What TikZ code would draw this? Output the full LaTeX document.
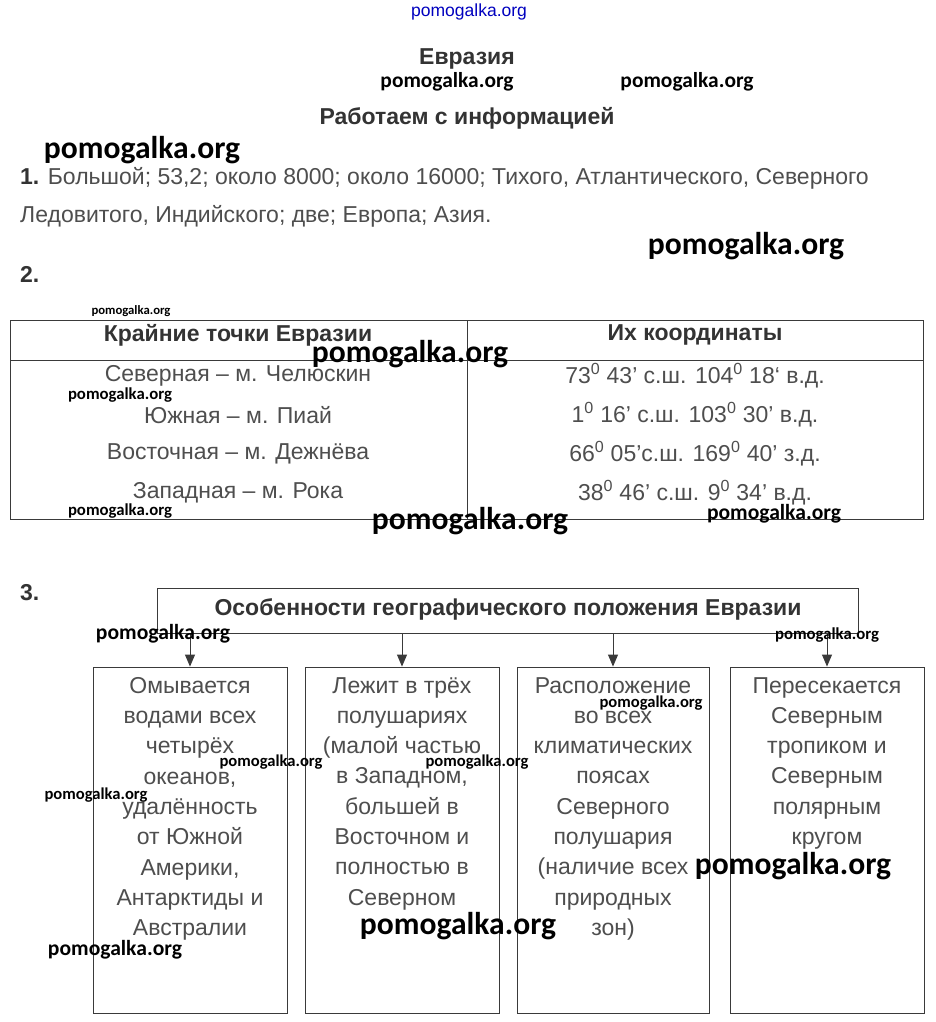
\documentclass[tikz,border=0pt]{standalone}
\usepackage{fontspec}
\usepackage{graphicx}
\setmainfont{Liberation Sans}
\newfontfamily\wmfont{Carlito}
\usetikzlibrary{arrows.meta}
\definecolor{txt}{HTML}{4E4E4E}
\definecolor{hd}{HTML}{333333}
\definecolor{ln}{HTML}{3A3A3A}
\newcommand\wmk[1]{\resizebox{#1pt}{!}{\wmfont\bfseries pomogalka.org}}
\tikzset{
  body/.style={text=txt,font=\fontsize{23}{27}\selectfont,inner sep=0pt},
  head/.style={text=hd,font=\fontsize{23}{27}\selectfont\bfseries,inner sep=0pt},
  boxtext/.style={text=txt,font=\fontsize{23}{30.3}\selectfont,align=center,inner sep=0pt,anchor=north},
  wm/.style={inner sep=0pt,text=black},
  frame/.style={draw=ln,line width=0.9pt,inner sep=0pt},
  arr/.style={draw=ln,line width=0.9pt,-{Triangle[width=10pt,length=12pt]}}
}
\begin{document}
\begin{tikzpicture}[x=1pt,y=-1pt]
\useasboundingbox[fill=white] (0,0) rectangle (936,1022);
% top watermark
\node[wm,text=blue!75!black] (wtop) at (469,12) {\resizebox{116pt}{!}{\fontsize{12}{14}\selectfont pomogalka.org}};
% titles
\node[head] (title) at (467,59) {Евразия};
\node[wm] (w1) at (447,82) {\wmk{133}};
\node[wm] (w2) at (687,82) {\wmk{133}};
\node[head] (sub) at (467,118) {Работаем с информацией};
\node[wm] (w3) at (142,150) {\wmk{196}};
% item 1
\node[body,anchor=west] (l1) at (20,178) {\textbf{\color{hd}1.} Большой; 53,2; около 8000; около 16000; Тихого, Атлантического, Северного};
\node[body,anchor=west] (l2) at (20,216) {Ледовитого, Индийского; две; Европа; Азия.};
\node[wm] (w4) at (746,246) {\wmk{196}};
% item 2
\node[head,anchor=west] (n2) at (20,274) {2.};
\node[wm] (w5) at (131,311) {\wmk{79}};
% table
\coordinate (tl) at (10,320);
\coordinate (br) at (923,519);
\draw[ln,line width=0.9pt] (tl) rectangle (br);
\draw[ln,line width=0.9pt] (10,360) -- (923,360);
\draw[ln,line width=0.6pt] (467,320) -- (467,519);
\node[head] (h1) at (238,335) {Крайние точки Евразии};
\node[head] (h2) at (695,335) {Их координаты};
\node[body] (r1a) at (238,376) {Северная – м. Челюскин};
\node[body] (r2a) at (238,415) {Южная – м. Пиай};
\node[body] (r3a) at (238,454) {Восточная – м. Дежнёва};
\node[body] (r4a) at (238,493) {Западная – м. Рока};
\node[body] (r1b) at (695,376) {73\textsuperscript{0} 43’ с.ш. 104\textsuperscript{0} 18‘ в.д.};
\node[body] (r2b) at (695,415) {1\textsuperscript{0} 16’ с.ш. 103\textsuperscript{0} 30’ в.д.};
\node[body] (r3b) at (695,454) {66\textsuperscript{0} 05’с.ш. 169\textsuperscript{0} 40’ з.д.};
\node[body] (r4b) at (695,493) {38\textsuperscript{0} 46’ с.ш. 9\textsuperscript{0} 34' в.д.};
\node[wm] (w6) at (410,354) {\wmk{196}};
\node[wm] (w7) at (120,395) {\wmk{104}};
\node[wm] (w8) at (120,511) {\wmk{104}};
\node[wm] (w9) at (774,514) {\wmk{134}};
\node[wm] (w10) at (470,521) {\wmk{196}};
% item 3
\node[head,anchor=west] (n3) at (20,593) {3.};
\node[frame,minimum width=701,minimum height=45] (hdr) at (507.5,610.5) {};
\node[head] (hdrt) at (508,609) {Особенности географического положения Евразии};
\node[frame,minimum width=194,minimum height=346] (b1) at (190,840) {};
\node[frame,minimum width=194,minimum height=346] (b2) at (402,840) {};
\node[frame,minimum width=192,minimum height=346] (b3) at (613,840) {};
\node[frame,minimum width=194,minimum height=346] (b4) at (827,840) {};
\foreach \b in {b1,b2,b3,b4}{\draw[arr] (hdr.south -| \b.north) -- (\b.north);}
\node[boxtext] (t1) at (190,677) {Омывается\\водами всех\\четырёх\\океанов,\\удалённость\\от Южной\\Америки,\\Антарктиды и\\Австралии};
\node[boxtext] (t2) at (402,677) {Лежит в трёх\\полушариях\\(малой частью\\в Западном,\\большей в\\Восточном и\\полностью в\\Северном};
\node[boxtext] (t3) at (613,677) {Расположение\\во всех\\климатических\\поясах\\Северного\\полушария\\(наличие всех\\природных\\зон)};
\node[boxtext] (t4) at (827,677) {Пересекается\\Северным\\тропиком и\\Северным\\полярным\\кругом};
\node[wm] (w11) at (163,634) {\wmk{134}};
\node[wm] (w12) at (827,635) {\wmk{104}};
\node[wm] (w13) at (651,703) {\wmk{103}};
\node[wm] (w14) at (271,762) {\wmk{103}};
\node[wm] (w15) at (477,762) {\wmk{103}};
\node[wm] (w16) at (96,795) {\wmk{103}};
\node[wm] (w17) at (793,866) {\wmk{196}};
\node[wm] (w18) at (458,926) {\wmk{196}};
\node[wm] (w19) at (115,950) {\wmk{134}};
\end{tikzpicture}
\end{document}
